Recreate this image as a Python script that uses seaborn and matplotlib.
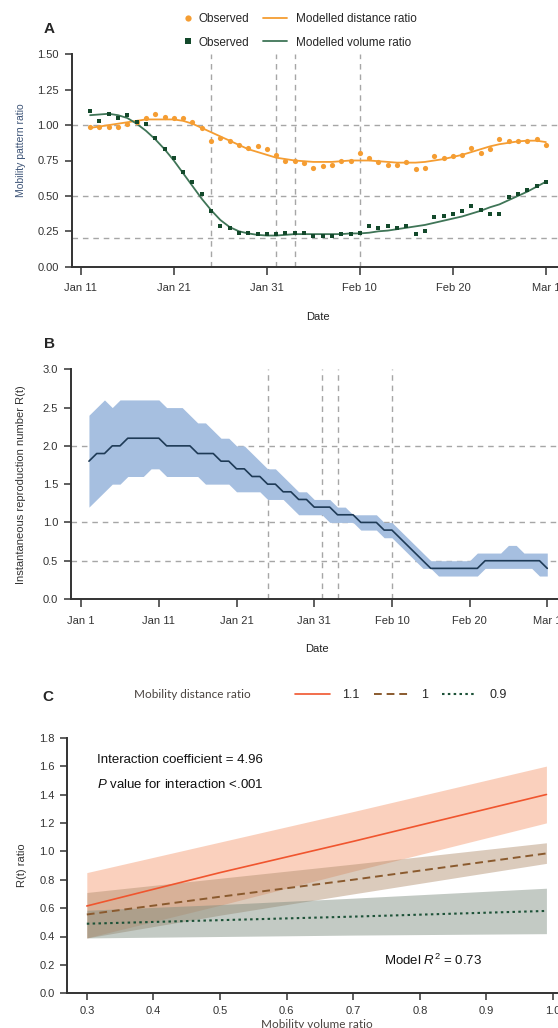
import numpy as np
import pandas as pd
import seaborn as sns
import matplotlib.pyplot as plt
from matplotlib.lines import Line2D

W, H = 558, 1028

# ---- panel A: mobility ratios (Jan 12 - Mar 1, 2020)
days_a = pd.date_range('2020-01-12', '2020-03-01')
obs_dist = [0.99, 0.99, 0.99, 0.99, 1.01, 1.02, 1.05, 1.08, 1.06, 1.05,
            1.05, 1.02, 0.98, 0.89, 0.91, 0.89, 0.86, 0.84, 0.85, 0.83,
            0.79, 0.75, 0.75, 0.73, 0.70, 0.71, 0.72, 0.75, 0.75, 0.80,
            0.77, 0.74, 0.72, 0.72, 0.74, 0.69, 0.70, 0.78, 0.77, 0.78,
            0.79, 0.84, 0.80, 0.83, 0.90, 0.89, 0.89, 0.89, 0.90, 0.86]
obs_vol = [1.10, 1.03, 1.08, 1.05, 1.07, 1.02, 1.01, 0.91, 0.83, 0.77,
           0.67, 0.60, 0.51, 0.39, 0.29, 0.27, 0.24, 0.24, 0.23, 0.23,
           0.23, 0.24, 0.24, 0.24, 0.22, 0.22, 0.22, 0.23, 0.23, 0.24,
           0.29, 0.27, 0.29, 0.27, 0.29, 0.23, 0.25, 0.35, 0.36, 0.37,
           0.39, 0.43, 0.40, 0.37, 0.37, 0.49, 0.51, 0.54, 0.57, 0.60]
mod_dist = [0.98, 0.99, 1.00, 1.01, 1.02, 1.03, 1.04, 1.04, 1.04, 1.04,
            1.03, 1.01, 0.98, 0.95, 0.92, 0.89, 0.86, 0.83, 0.81, 0.79,
            0.77, 0.76, 0.75, 0.745, 0.74, 0.74, 0.74, 0.745, 0.75, 0.75,
            0.75, 0.745, 0.74, 0.735, 0.735, 0.735, 0.74, 0.75, 0.76, 0.775,
            0.79, 0.81, 0.83, 0.85, 0.865, 0.875, 0.885, 0.89, 0.89, 0.88]
mod_vol = [1.07, 1.075, 1.08, 1.07, 1.05, 1.01, 0.96, 0.90, 0.83, 0.75,
           0.66, 0.57, 0.48, 0.40, 0.33, 0.28, 0.25, 0.235, 0.225, 0.22,
           0.22, 0.225, 0.23, 0.23, 0.23, 0.23, 0.23, 0.23, 0.235, 0.235,
           0.24, 0.25, 0.255, 0.265, 0.275, 0.285, 0.295, 0.31, 0.325, 0.34,
           0.355, 0.375, 0.395, 0.42, 0.44, 0.47, 0.50, 0.53, 0.565, 0.60]

# ---- panel B: instantaneous R(t) (Jan 2 - Mar 1, 2020)
days_b = pd.date_range('2020-01-02', '2020-03-01')
rt_mean = [1.8, 1.9, 1.9, 2.0, 2.0, 2.1, 2.1, 2.1, 2.1, 2.1,
           2.0, 2.0, 2.0, 2.0, 1.9, 1.9, 1.9, 1.8, 1.8, 1.7,
           1.7, 1.6, 1.6, 1.5, 1.5, 1.4, 1.4, 1.3, 1.3, 1.2,
           1.2, 1.2, 1.1, 1.1, 1.1, 1.0, 1.0, 1.0, 0.9, 0.9,
           0.8, 0.7, 0.6, 0.5, 0.4, 0.4, 0.4, 0.4, 0.4, 0.4,
           0.4, 0.5, 0.5, 0.5, 0.5, 0.5, 0.5, 0.5, 0.5, 0.4]
rt_high = [2.4, 2.5, 2.6, 2.5, 2.6, 2.6, 2.6, 2.6, 2.6, 2.6,
           2.5, 2.5, 2.5, 2.4, 2.3, 2.3, 2.2, 2.1, 2.1, 2.0,
           2.0, 1.9, 1.8, 1.7, 1.7, 1.6, 1.5, 1.4, 1.4, 1.3,
           1.3, 1.3, 1.2, 1.2, 1.1, 1.1, 1.1, 1.1, 1.0, 1.0,
           0.9, 0.8, 0.7, 0.6, 0.5, 0.5, 0.5, 0.5, 0.5, 0.5,
           0.6, 0.6, 0.6, 0.6, 0.7, 0.7, 0.6, 0.6, 0.6, 0.6]
rt_low = [1.2, 1.3, 1.4, 1.5, 1.5, 1.6, 1.6, 1.6, 1.7, 1.7,
          1.6, 1.6, 1.6, 1.6, 1.6, 1.5, 1.5, 1.5, 1.5, 1.4,
          1.4, 1.4, 1.4, 1.3, 1.3, 1.3, 1.2, 1.1, 1.1, 1.1,
          1.1, 1.0, 1.0, 1.0, 1.0, 0.9, 0.9, 0.9, 0.8, 0.8,
          0.7, 0.6, 0.5, 0.4, 0.4, 0.3, 0.3, 0.3, 0.3, 0.3,
          0.3, 0.4, 0.4, 0.4, 0.4, 0.4, 0.4, 0.4, 0.3, 0.3]

events = pd.to_datetime(['2020-01-25', '2020-02-01', '2020-02-03', '2020-02-10'])

# ---- panel C: R(t) ratio by mobility volume ratio, for three distance ratios
vol_ratio = [0.3, 0.5, 0.7, 0.99]
fit_11 = [0.615, 0.85, 1.07, 1.40]
lo_11 = [0.39, 0.62, 0.86, 1.20]
hi_11 = [0.85, 1.065, 1.28, 1.60]
fit_10 = [0.555, 0.68, 0.80, 0.985]
lo_10 = [0.39, 0.55, 0.70, 0.915]
hi_10 = [0.71, 0.81, 0.91, 1.06]
fit_09 = [0.49, 0.515, 0.54, 0.58]
lo_09 = [0.39, 0.40, 0.41, 0.42]
hi_09 = [0.585, 0.625, 0.67, 0.74]

ORANGE = '#f59d32'
GREEN_PT = '#13492b'
GREEN_LN = '#3f7557'
GRID = '#a6a6a6'
SPINE = '#333333'

sns.set_style('ticks')
plt.rcParams['font.family'] = ['Liberation Sans', 'DejaVu Sans']
plt.rcParams['mathtext.fontset'] = 'custom'
plt.rcParams['mathtext.rm'] = 'Liberation Sans'
plt.rcParams['mathtext.it'] = 'Liberation Sans:italic'

fig = plt.figure(figsize=(W / 100, H / 100), dpi=100)


def px_axes(left, top, right, bottom):
    return fig.add_axes([left / W, 1 - bottom / H, (right - left) / W, (bottom - top) / H])


def fx(x):
    return x / W


def fy(y):
    return 1 - y / H


def style_axes(ax):
    sns.despine(ax=ax)
    for s in ('left', 'bottom'):
        ax.spines[s].set_color(SPINE)
        ax.spines[s].set_linewidth(1.4)
    ax.tick_params(colors=SPINE, width=1.1, labelsize=8, labelcolor='#333333')


def dashed(ax, hlines, vlines):
    for y in hlines:
        ax.axhline(y, color=GRID, lw=1, ls=(0, (4, 3.5)), zorder=0)
    for x in vlines:
        ax.axvline(x, color=GRID, lw=1, ls=(0, (4, 3.5)), zorder=0)


# ================= A =================
ax_a = px_axes(71.5, 54.3, 564.5, 266.7)
dashed(ax_a, [1.0, 0.5, 0.2], events)
sns.lineplot(x=days_a, y=mod_dist, ax=ax_a, color=ORANGE, lw=1.3)
sns.lineplot(x=days_a, y=mod_vol, ax=ax_a, color=GREEN_LN, lw=1.3)
sns.scatterplot(x=days_a, y=obs_dist, ax=ax_a, color=ORANGE, s=14, marker='o',
                linewidth=0, zorder=3)
sns.scatterplot(x=days_a, y=obs_vol, ax=ax_a, color=GREEN_PT, s=10, marker='s',
                linewidth=0, zorder=3)
ax_a.set_xlim(pd.Timestamp('2020-01-10'), pd.Timestamp('2020-03-03'))
ax_a.set_ylim(0, 1.5)
ax_a.set_yticks(np.arange(0, 1.51, 0.25))
ax_a.set_yticklabels([f'{v:.2f}' for v in np.arange(0, 1.51, 0.25)])
ticks_a = pd.date_range('2020-01-11', periods=6, freq='10D')
ax_a.set_xticks(ticks_a)
ax_a.set_xticklabels([f'{d:%b} {d.day}' for d in ticks_a])
style_axes(ax_a)
ax_a.tick_params(axis='x', length=6, pad=6)
ax_a.tick_params(axis='y', length=5, pad=4)
ax_a.set_xlabel('Date', fontsize=8, color='#222222')
ax_a.set_ylabel('Mobility pattern ratio', fontsize=7.5, color='#3d5477')
ax_a.xaxis.set_label_coords(0.5, -(317 - 266.7) / 212.4)
ax_a.xaxis.label.set_va('center')
ax_a.yaxis.set_label_coords(-(71.5 - 20.7) / 493, 0.55)
ax_a.yaxis.label.set_va('center')

# legend A: markers and lines as two column legends
obs_handles = [
    Line2D([], [], ls='none', marker='o', ms=4.5, color=ORANGE, mew=0),
    Line2D([], [], ls='none', marker='s', ms=3.8, color=GREEN_PT, mew=0),
]
mod_handles = [
    Line2D([], [], color=ORANGE, lw=1.3),
    Line2D([], [], color=GREEN_LN, lw=1.3),
]
fig.legend(obs_handles, ['Observed', 'Observed'], loc='center left', frameon=False,
           bbox_to_anchor=(fx(184), fy(31)), fontsize=8.5, handlelength=0.7,
           handletextpad=0.55, labelspacing=0.95, borderpad=0, borderaxespad=0)
fig.legend(mod_handles, ['Modelled distance ratio', 'Modelled volume ratio'],
           loc='center left', frameon=False, bbox_to_anchor=(fx(263), fy(31)),
           fontsize=8.5, handlelength=2.0, handletextpad=0.8, labelspacing=0.95,
           borderpad=0, borderaxespad=0)
fig.text(fx(44), fy(29), 'A', fontsize=11, fontweight='bold', va='center')

# ================= B =================
ax_b = px_axes(70.5, 369.3, 562.8, 599)
dashed(ax_b, [2.0, 1.0, 0.5], events)
ax_b.fill_between(days_b, rt_low, rt_high, color='#a6bfe0', lw=0, zorder=1)
sns.lineplot(x=days_b, y=rt_mean, ax=ax_b, color='#1e3a56', lw=1.2, zorder=2)
ax_b.set_xlim(pd.Timestamp('2019-12-30 15:00'), pd.Timestamp('2020-03-03'))
ax_b.set_ylim(0, 3.0)
ax_b.set_yticks(np.arange(0, 3.01, 0.5))
ax_b.set_yticklabels([f'{v:.1f}' for v in np.arange(0, 3.01, 0.5)])
ticks_b = pd.date_range('2020-01-01', periods=7, freq='10D')
ax_b.set_xticks(ticks_b)
ax_b.set_xticklabels([f'{d:%b} {d.day}' for d in ticks_b])
style_axes(ax_b)
ax_b.tick_params(axis='x', length=6, pad=6)
ax_b.tick_params(axis='y', length=5, pad=4)
ax_b.set_xlabel('Date', fontsize=8, color='#222222')
ax_b.set_ylabel('Instantaneous reproduction number R(t)', fontsize=8, color='#333333')
ax_b.xaxis.set_label_coords(0.5, -(649 - 599) / 229.7)
ax_b.xaxis.label.set_va('center')
ax_b.yaxis.set_label_coords(-(70.5 - 20.7) / 492.3, 0.5)
ax_b.yaxis.label.set_va('center')
fig.text(fx(44), fy(344), 'B', fontsize=11, fontweight='bold', va='center')

# ================= C =================
ax_c = px_axes(67.3, 737.7, 566.4, 993.3)
ax_c.fill_between(vol_ratio, lo_11, hi_11, color='#f6a27c', alpha=0.5, lw=0)
ax_c.fill_between(vol_ratio, lo_10, hi_10, color='#b08c6c', alpha=0.45, lw=0)
ax_c.fill_between(vol_ratio, lo_09, hi_09, color='#7a8a7d', alpha=0.45, lw=0)
sns.lineplot(x=vol_ratio, y=fit_11, ax=ax_c, color='#f0552e', lw=1.2)
sns.lineplot(x=vol_ratio, y=fit_10, ax=ax_c, color='#8a5a2e', lw=1.4, ls=(0, (4, 2.5)))
sns.lineplot(x=vol_ratio, y=fit_09, ax=ax_c, color='#1d5238', lw=1.5, ls=(0, (1.2, 1.6)))
ax_c.set_xlim(0.2707, 1.02)
ax_c.set_ylim(0, 1.8)
ax_c.set_xticks(np.arange(0.3, 1.01, 0.1))
ax_c.set_xticklabels([f'{v:.1f}' for v in np.arange(0.3, 1.01, 0.1)])
ax_c.set_yticks(np.arange(0, 1.81, 0.2))
ax_c.set_yticklabels([f'{v:.1f}' for v in np.arange(0, 1.81, 0.2)])
style_axes(ax_c)
ax_c.tick_params(axis='x', length=5, pad=4)
ax_c.tick_params(axis='y', length=5, pad=4)
ax_c.set_xlabel('Mobility volume ratio', fontsize=8.5, color='#4a4440', family=['Lato', 'DejaVu Sans'])
ax_c.set_ylabel('R(t) ratio', fontsize=8, color='#333333')
ax_c.xaxis.set_label_coords(0.5, -(1025 - 993.3) / 255.6)
ax_c.xaxis.label.set_va('center')
ax_c.yaxis.set_label_coords(-(67.3 - 22) / 499.1, 0.5)
ax_c.yaxis.label.set_va('center')

fig.text(fx(96.8), fy(760), 'Interaction coefficient = 4.96', fontsize=9.5, va='center', color='#111111')
fig.text(fx(96.8), fy(785), '$P$ value for interaction <.001', fontsize=9.5, va='center', color='#111111')
fig.text(fx(384), fy(960), 'Model $R^2$ = 0.73', fontsize=9.5, va='center', color='#111111')

fig.text(fx(134.5), fy(694), 'Mobility distance ratio', fontsize=8.5, va='center',
         color='#4a4440', family=['Lato', 'DejaVu Sans'])
handles_c = [
    Line2D([], [], color='#f0552e', lw=1.2),
    Line2D([], [], color='#8a5a2e', lw=1.4, ls=(0, (4, 2.5))),
    Line2D([], [], color='#1d5238', lw=1.5, ls=(0, (1.2, 1.6))),
]
fig.legend(handles_c, ['1.1', '1', '0.9'], ncol=3, loc='center left', frameon=False,
           bbox_to_anchor=(fx(295), fy(695)), fontsize=9, handlelength=2.8,
           handletextpad=1.0, columnspacing=1.1, borderpad=0, borderaxespad=0)
fig.text(fx(42), fy(697), 'C', fontsize=11, fontweight='bold', va='center')

fig.savefig('out.png', dpi=100)
